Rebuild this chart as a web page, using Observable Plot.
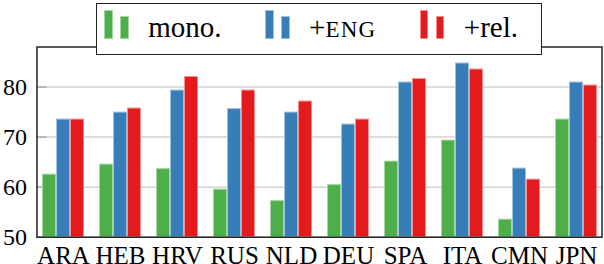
<!DOCTYPE html>
<html><head><meta charset="utf-8">
<script src="https://cdn.jsdelivr.net/npm/d3@7"></script>
<script src="https://cdn.jsdelivr.net/npm/@observablehq/plot@0.6"></script>
<style>
body{margin:0;background:#fff;}
#wrap{position:relative;width:604px;height:264px;font-family:"Liberation Serif","DejaVu Serif",serif;}
#legend{position:absolute;left:96px;top:3px;width:446px;height:52px;border:1.3px solid #222;background:#fff;box-sizing:border-box;
  display:flex;align-items:flex-start;padding-left:7.3px;padding-top:5.7px;gap:43.5px;}
.item{display:flex;align-items:flex-start;}
.sw{display:flex;align-items:flex-end;height:29px;gap:7.5px;}
.sw div{width:8.5px;box-sizing:border-box;border:1px solid;}
.lab{font-family:"Liberation Serif","DejaVu Serif",serif;font-size:29px;line-height:29px;margin-top:3px;margin-left:19.5px;color:#000;white-space:nowrap;}
</style></head>
<body><div id="wrap"></div>
<script>
const languages = ["ARA","HEB","HRV","RUS","NLD","DEU","SPA","ITA","CMN","JPN"];
const seriesNames = ["mono.","+ENG","+rel."];
const mono = [62.5,64.5,63.6,59.5,57.2,60.4,65.1,69.3,53.5,73.5];
const eng  = [73.5,74.9,79.3,75.6,74.9,72.5,80.9,84.7,63.7,80.9];
const rel  = [73.5,75.7,82.0,79.3,77.1,73.5,81.6,83.5,61.5,80.3];
const yTicks = [50,60,70,80];
const yDomain = [50,88];
const colors = ["#4daf4a","#377eb8","#e41a1c"];
const edgeColors = ["#a3d6a1","#9cc0dd","#f29192"];

const serif = '"Liberation Serif","DejaVu Serif",serif';
const seriesValues = [mono, eng, rel];
const bw = 14;
const barMarks = seriesValues.map((vals, i) =>
  Plot.barY(languages.map((lang, j) => ({lang, value: vals[j]})), {
    x: "lang", y1: yDomain[0], y2: "value",
    fill: colors[i], stroke: edgeColors[i], strokeWidth: 1,
    insetLeft: i * bw + 0.5, insetRight: (2 - i) * bw + 0.5
  })
);

const chart = Plot.plot({
  width: 604, height: 264,
  marginLeft: 36.5, marginRight: 2.5, marginTop: 46.5, marginBottom: 27.3,
  style: {fontFamily: serif, fontSize: "24px", color: "#000", background: "#fff"},
  x: {domain: languages, paddingInner: 0.264, paddingOuter: 0.08, label: null},
  y: {domain: yDomain, label: null},
  marks: [
    Plot.ruleY(yTicks, {stroke: "#d2d2d2", strokeWidth: 1.5}),
    Plot.axisY(yTicks, {tickSize: -10, tickFormat: () => "", stroke: "#aaa", strokeWidth: 1.5}),
    Plot.axisY(yTicks, {tickSize: 0, tickPadding: 10, fontSize: 24, fontFamily: serif}),
    Plot.axisX({tickSize: 0, tickPadding: 9, fontSize: 25, fontFamily: serif}),
    ...barMarks,
    Plot.frame({stroke: "#222", strokeWidth: 1.5})
  ]
});
const wrap = document.getElementById("wrap");
wrap.appendChild(chart);

const legend = document.createElement("div");
legend.id = "legend";
seriesNames.forEach((name, i) => {
  const item = document.createElement("div");
  item.className = "item";
  const sw = document.createElement("div");
  sw.className = "sw";
  [29, 23].forEach(h => {
    const b = document.createElement("div");
    b.style.height = h + "px";
    b.style.background = colors[i];
    b.style.borderColor = edgeColors[i];
    sw.appendChild(b);
  });
  const lab = document.createElement("span");
  lab.className = "lab";
  if (name === "+ENG") {
    lab.append("+");
    const sc = document.createElement("span");
    sc.style.fontSize = "23px";
    sc.style.letterSpacing = "1.2px";
    sc.textContent = "ENG";
    lab.appendChild(sc);
  } else {
    lab.textContent = name;
  }
  item.appendChild(sw);
  item.appendChild(lab);
  legend.appendChild(item);
});
wrap.appendChild(legend);
</script>
</body></html>
